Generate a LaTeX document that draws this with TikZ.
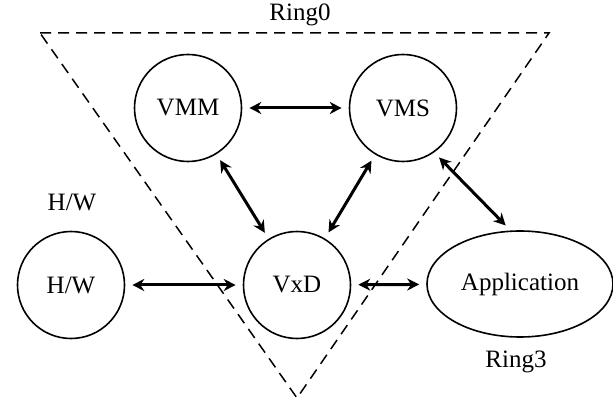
\documentclass[tikz,border=0pt]{standalone}
\usepackage{fontspec}
\setmainfont{Liberation Serif}
\usetikzlibrary{arrows.meta,shapes.geometric}
\begin{document}
\begin{tikzpicture}[x=1pt,y=-1pt,
  circ/.style={draw, line width=1.6pt, circle, minimum size=107pt, inner sep=0pt, font=\fontsize{25}{28}\selectfont},
  oval/.style={draw, line width=1.6pt, ellipse, minimum width=186pt, minimum height=106pt, inner sep=0pt, font=\fontsize{25}{28}\selectfont},
  lbl/.style={font=\fontsize{25}{28}\selectfont, inner sep=0pt},
  link/.style={{Stealth[length=12pt,width=12pt]}-{Stealth[length=12pt,width=12pt]}, line width=3pt, shorten >=7pt, shorten <=7pt},
  ring/.style={dashed, dash pattern=on 11pt off 7pt, line width=1.5pt}]
\useasboundingbox (0,0) rectangle (613,403);
\coordinate (tl) at (40,33);
\coordinate (tr) at (549,33);
\coordinate (ap) at (297,398);
\draw[ring] (tl) -- (tr) -- (ap) -- cycle;
\node[lbl] (r0) at (300,15) {Ring0};
\node[lbl] (hwl) at (72,202) {H/W};
\node[lbl] (r3) at (516,362) {Ring3};
\node[circ] (vmm) at (188,108) {VMM};
\node[circ] (vms) at (403,108) {VMS};
\node[circ] (vxd) at (297,285) {VxD};
\node[circ] (hw) at (71,285) {H/W};
\node[oval] (app) at (520,284) {Application};
\draw[link] (vmm) -- (vms);
\draw[link] (vmm) -- (vxd);
\draw[link] (vms) -- (vxd);
\draw[link] (vms.-55) -- (app.100);
\draw[link] (hw) -- (vxd);
\draw[link] (vxd) -- (app);
\end{tikzpicture}
\end{document}
